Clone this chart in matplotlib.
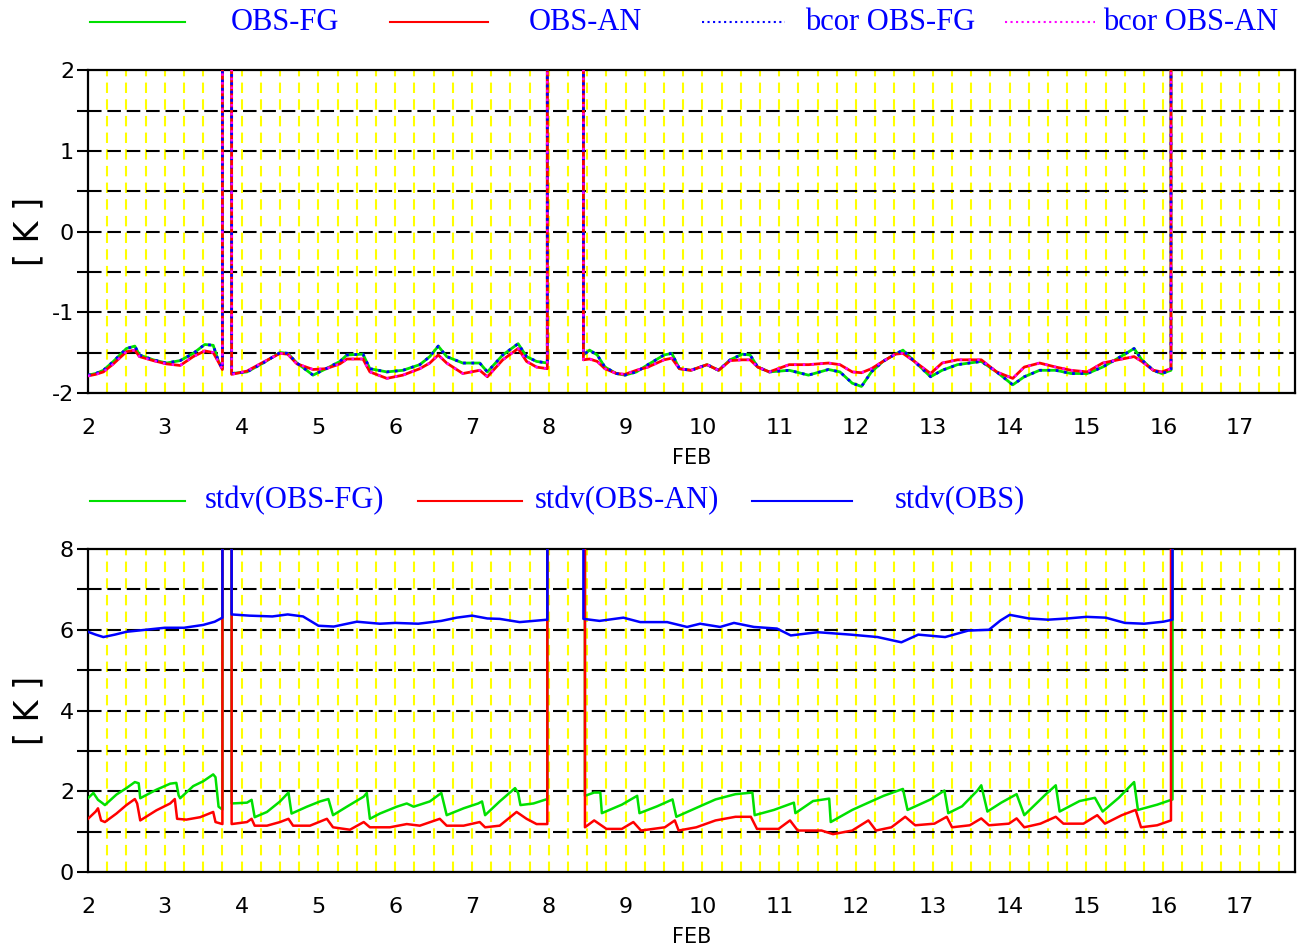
import numpy as np
import matplotlib
matplotlib.use("Agg")
import matplotlib.pyplot as plt
from matplotlib.lines import Line2D

FILL = 999.0  # missing-data value, drawn off the top of the panels
XEND = 17.8

# mean departures [K], one list per continuous data block
dep_t = [
    [2.0, 2.1, 2.2, 2.33, 2.5, 2.61, 2.67, 2.85, 3.02, 3.2, 3.37, 3.52, 3.63, 3.7, 3.75],
    [3.87, 4.07, 4.28, 4.5, 4.6, 4.72, 4.93, 5.1, 5.28, 5.37, 5.58, 5.67, 5.89, 6.1,
     6.32, 6.45, 6.56, 6.67, 6.88, 7.1, 7.2, 7.4, 7.6, 7.71, 7.84, 7.98],
    [8.45, 8.53, 8.63, 8.73, 8.88, 8.99, 9.14, 9.29, 9.5, 9.6, 9.7, 9.85, 10.06, 10.21,
     10.36, 10.52, 10.62, 10.72, 10.87, 11.13, 11.38, 11.64, 11.79, 11.95, 12.07, 12.2,
     12.35, 12.51, 12.61, 12.76, 12.97, 13.12, 13.32, 13.63, 13.83, 14.04, 14.19, 14.39,
     14.6, 14.8, 15.01, 15.21, 15.41, 15.62, 15.72, 15.87, 15.98, 16.1],
]
obs_fg = [
    [-1.78, -1.76, -1.72, -1.61, -1.45, -1.42, -1.53, -1.59, -1.63, -1.60, -1.51, -1.40, -1.41, -1.61, -1.70],
    [-1.76, -1.74, -1.63, -1.50, -1.51, -1.63, -1.78, -1.70, -1.61, -1.53, -1.52, -1.70, -1.74, -1.72,
     -1.65, -1.55, -1.42, -1.55, -1.63, -1.63, -1.74, -1.53, -1.39, -1.55, -1.61, -1.63],
    [-1.53, -1.47, -1.53, -1.68, -1.76, -1.78, -1.74, -1.65, -1.53, -1.51, -1.70, -1.72, -1.65, -1.72,
     -1.59, -1.52, -1.53, -1.68, -1.74, -1.72, -1.78, -1.71, -1.74, -1.88, -1.92, -1.74,
     -1.61, -1.52, -1.47, -1.61, -1.80, -1.72, -1.65, -1.61, -1.74, -1.90, -1.80, -1.72,
     -1.72, -1.76, -1.76, -1.68, -1.57, -1.45, -1.59, -1.72, -1.76, -1.72],
]
obs_an = [
    [-1.79, -1.77, -1.74, -1.64, -1.49, -1.47, -1.55, -1.60, -1.64, -1.66, -1.55, -1.48, -1.50, -1.62, -1.71],
    [-1.77, -1.73, -1.62, -1.51, -1.52, -1.64, -1.71, -1.70, -1.64, -1.58, -1.58, -1.74, -1.82, -1.78,
     -1.70, -1.63, -1.53, -1.63, -1.76, -1.72, -1.80, -1.59, -1.45, -1.61, -1.68, -1.70],
    [-1.59, -1.58, -1.61, -1.70, -1.76, -1.77, -1.72, -1.68, -1.59, -1.57, -1.70, -1.72, -1.65, -1.72,
     -1.60, -1.59, -1.59, -1.68, -1.74, -1.65, -1.65, -1.63, -1.65, -1.74, -1.75, -1.70,
     -1.61, -1.52, -1.51, -1.61, -1.76, -1.63, -1.59, -1.59, -1.74, -1.82, -1.68, -1.63,
     -1.68, -1.72, -1.74, -1.63, -1.59, -1.55, -1.61, -1.72, -1.74, -1.70],
]
bcor_fg = obs_fg
bcor_an = obs_an

# standard deviations [K]
sfg_t = [
    [2.0, 2.07, 2.13, 2.18, 2.22, 2.37, 2.5, 2.61, 2.66, 2.68, 2.89, 3.07, 3.15, 3.18, 3.2,
     3.37, 3.5, 3.63, 3.66, 3.7, 3.75],
    [3.87, 4.07, 4.13, 4.17, 4.33, 4.5, 4.61, 4.65, 4.85, 5.02, 5.13, 5.19, 5.37, 5.59, 5.63,
     5.67, 5.8, 6.02, 6.15, 6.24, 6.45, 6.6, 6.67, 6.89, 7.08, 7.13, 7.17, 7.36, 7.56, 7.6,
     7.63, 7.8, 7.98],
    [8.47, 8.59, 8.67, 8.69, 8.95, 9.15, 9.18, 9.41, 9.61, 9.66, 9.92, 10.17, 10.43, 10.65,
     10.68, 10.93, 11.19, 11.21, 11.44, 11.65, 11.67, 11.95, 12.16, 12.36, 12.61, 12.67,
     12.97, 13.15, 13.2, 13.38, 13.58, 13.63, 13.71, 13.89, 14.09, 14.19, 14.45, 14.6,
     14.65, 14.91, 15.11, 15.21, 15.42, 15.62, 15.67, 15.92, 16.12],
]
stdv_fg = [
    [1.83, 1.96, 1.79, 1.72, 1.66, 1.92, 2.08, 2.23, 2.20, 1.83, 2.04, 2.19, 2.21, 1.90, 1.83,
     2.13, 2.25, 2.42, 2.35, 1.62, 1.55],
    [1.70, 1.72, 1.79, 1.36, 1.49, 1.75, 1.97, 1.45, 1.62, 1.75, 1.81, 1.41, 1.62, 1.87, 1.96,
     1.32, 1.45, 1.62, 1.70, 1.62, 1.75, 1.96, 1.41, 1.58, 1.70, 1.75, 1.41, 1.75, 2.08, 1.96,
     1.66, 1.70, 1.81],
    [1.89, 1.97, 1.97, 1.46, 1.67, 1.89, 1.46, 1.63, 1.80, 1.37, 1.59, 1.80, 1.93, 1.97,
     1.41, 1.54, 1.72, 1.46, 1.76, 1.82, 1.24, 1.54, 1.72, 1.89, 2.06, 1.54,
     1.80, 2.02, 1.46, 1.63, 2.02, 2.15, 1.50, 1.72, 1.93, 1.41, 1.89, 2.15,
     1.50, 1.76, 1.84, 1.50, 1.84, 2.23, 1.54, 1.67, 1.80],
]
san_t = [
    [2.0, 2.1, 2.13, 2.17, 2.22, 2.37, 2.5, 2.61, 2.64, 2.68, 2.89, 3.07, 3.13, 3.16, 3.28,
     3.46, 3.63, 3.66, 3.75],
    [3.87, 4.07, 4.13, 4.17, 4.33, 4.5, 4.61, 4.67, 4.89, 5.11, 5.19, 5.41, 5.59, 5.67, 5.93,
     6.15, 6.32, 6.58, 6.67, 6.89, 7.1, 7.17, 7.36, 7.58, 7.71, 7.84, 7.98],
    [8.47, 8.59, 8.75, 8.95, 9.1, 9.2, 9.51, 9.64, 9.69, 9.92, 10.17, 10.43, 10.63, 10.71,
     10.99, 11.14, 11.24, 11.55, 11.7, 11.95, 12.16, 12.26, 12.46, 12.64, 12.77, 13.02,
     13.18, 13.25, 13.48, 13.63, 13.73, 13.99, 14.09, 14.19, 14.4, 14.6, 14.7, 14.96,
     15.14, 15.24, 15.46, 15.64, 15.71, 15.92, 16.1],
]
stdv_an = [
    [1.32, 1.50, 1.58, 1.28, 1.24, 1.45, 1.66, 1.81, 1.70, 1.28, 1.53, 1.70, 1.81, 1.32, 1.30,
     1.36, 1.49, 1.24, 1.19],
    [1.19, 1.24, 1.32, 1.15, 1.15, 1.24, 1.32, 1.15, 1.15, 1.32, 1.11, 1.05, 1.24, 1.11, 1.11,
     1.19, 1.15, 1.32, 1.15, 1.15, 1.24, 1.11, 1.15, 1.49, 1.32, 1.19, 1.19],
    [1.11, 1.28, 1.07, 1.07, 1.24, 1.03, 1.11, 1.28, 1.03, 1.11, 1.28, 1.37, 1.37, 1.07,
     1.07, 1.28, 1.03, 1.03, 0.94, 1.03, 1.28, 1.03, 1.11, 1.37, 1.16, 1.20,
     1.37, 1.11, 1.16, 1.33, 1.16, 1.20, 1.33, 1.11, 1.20, 1.37, 1.20, 1.20,
     1.41, 1.20, 1.41, 1.54, 1.11, 1.16, 1.28],
]
sobs_t = [
    [2.0, 2.1, 2.2, 2.35, 2.5, 2.75, 3.0, 3.25, 3.5, 3.65, 3.75],
    [3.87, 4.1, 4.4, 4.6, 4.8, 5.0, 5.2, 5.5, 5.8, 6.0, 6.3, 6.6, 6.8, 7.0, 7.2, 7.36, 7.62,
     7.8, 7.98],
    [8.45, 8.66, 8.97, 9.19, 9.54, 9.8, 9.97, 10.23, 10.41, 10.67, 10.97, 11.15, 11.5, 11.93,
     12.28, 12.59, 12.81, 13.16, 13.46, 13.73, 13.88, 14.0, 14.25, 14.5, 14.75, 15.0, 15.25,
     15.5, 15.75, 16.0, 16.12],
]
stdv_obs = [
    [5.95, 5.88, 5.82, 5.88, 5.95, 6.00, 6.05, 6.05, 6.12, 6.20, 6.30],
    [6.38, 6.35, 6.33, 6.38, 6.33, 6.10, 6.08, 6.20, 6.15, 6.17, 6.15, 6.22, 6.30, 6.35, 6.28,
     6.27, 6.19, 6.22, 6.25],
    [6.27, 6.22, 6.30, 6.19, 6.19, 6.07, 6.15, 6.07, 6.17, 6.07, 6.03, 5.86, 5.94, 5.88,
     5.82, 5.69, 5.88, 5.82, 5.98, 6.00, 6.23, 6.37, 6.28, 6.25, 6.28, 6.32, 6.30,
     6.17, 6.15, 6.20, 6.25],
]

day_ticks = list(range(2, 18))


def join_blocks(tb, vb):
    # glue the blocks together, missing periods get the fill value
    x, y = [], []
    for i, (t, v) in enumerate(zip(tb, vb)):
        if i > 0:
            x.append(t[0] - 0.01)
            y.append(FILL)
        x += list(t)
        y += list(v)
        if i < len(tb) - 1:
            x.append(t[-1] + 0.01)
            y.append(FILL)
    x += [tb[-1][-1] + 0.01, XEND]
    y += [FILL, FILL]
    return np.array(x), np.array(y)


def setup(ax, ylo, yhi, step, labstep):
    ax.set_xlim(2.0, 17.72)
    ax.set_ylim(ylo, yhi)
    for d in np.arange(2.25, 17.6, 0.25):
        ax.axvline(d, color="#ffff00", lw=1.5, dashes=(5, 3), zorder=1)
    for v in np.arange(ylo + step, yhi - step / 2, step):
        ax.axhline(v, color="black", lw=1.5, dashes=(6.5, 2.8), zorder=2)
    ax.set_yticks(np.arange(ylo, yhi + 0.01, labstep))
    ax.set_yticks(np.arange(ylo, yhi + 0.01, step), minor=True)
    ax.yaxis.set_major_formatter(matplotlib.ticker.FormatStrFormatter("%g"))
    ax.tick_params(axis="y", which="both", length=8, width=1.5, pad=2, labelsize=16)
    ax.set_xticks(day_ticks)
    ax.tick_params(axis="x", length=0, pad=18, labelsize=16)
    for s in ax.spines.values():
        s.set_linewidth(1.6)
    ax.set_ylabel("[ K ]", fontsize=24)
    ax.yaxis.set_label_coords(-0.035, 0.5)
    ax.set_xlabel("FEB", fontsize=15)
    ax.xaxis.set_label_coords(0.5, -0.17)


fig = plt.figure(figsize=(12.98, 9.49), dpi=100)
ax1 = fig.add_axes([0.0678, 0.586, 0.9302, 0.340])
ax2 = fig.add_axes([0.0678, 0.081, 0.9302, 0.3405])

setup(ax1, -2, 2, 0.5, 1)
setup(ax2, 0, 8, 1, 2)

GREEN, RED, BLUE, MAG = "#00e000", "#ff0000", "#0000ff", "#ff00ff"

x, y = join_blocks(dep_t, obs_fg)
ax1.plot(x, y, color=GREEN, lw=2.0, zorder=3)
x, y = join_blocks(dep_t, obs_an)
ax1.plot(x, y, color=RED, lw=2.0, zorder=4)
x, y = join_blocks(dep_t, bcor_fg)
ax1.plot(x, y, color=BLUE, lw=2.0, ls=(0, (1, 2)), zorder=5)
x, y = join_blocks(dep_t, bcor_an)
ax1.plot(x, y, color=MAG, lw=1.8, ls=(0, (1, 2.5)), zorder=6)

x, y = join_blocks(sfg_t, stdv_fg)
ax2.plot(x, y, color=GREEN, lw=1.8, zorder=3)
x, y = join_blocks(san_t, stdv_an)
ax2.plot(x, y, color=RED, lw=1.8, zorder=4)
x, y = join_blocks(sobs_t, stdv_obs)
ax2.plot(x, y, color=BLUE, lw=1.8, zorder=5)


def legend_item(x0, x1, yf, color, ls, label, xt):
    fig.add_artist(Line2D([x0 / 1298, x1 / 1298], [yf, yf], color=color, lw=1.5, ls=ls,
                          transform=fig.transFigure))
    fig.text(xt / 1298, yf, label, color=BLUE, fontsize=22, family="Liberation Serif",
             ha="center", va="center")


ytop = 1 - 22 / 949
legend_item(90, 185, ytop, GREEN, "-", "OBS-FG", 285)
legend_item(390, 488, ytop, RED, "-", "OBS-AN", 585)
legend_item(702, 785, ytop, BLUE, ":", "bcor OBS-FG", 890)
legend_item(1005, 1095, ytop, MAG, ":", "bcor OBS-AN", 1191)

ybot = 1 - 501 / 949
legend_item(90, 185, ybot, GREEN, "-", "stdv(OBS-FG)", 295)
legend_item(418, 522, ybot, RED, "-", "stdv(OBS-AN)", 627)
legend_item(752, 852, ybot, BLUE, "-", "stdv(OBS)", 960)

fig.savefig("out.png", dpi=100)
